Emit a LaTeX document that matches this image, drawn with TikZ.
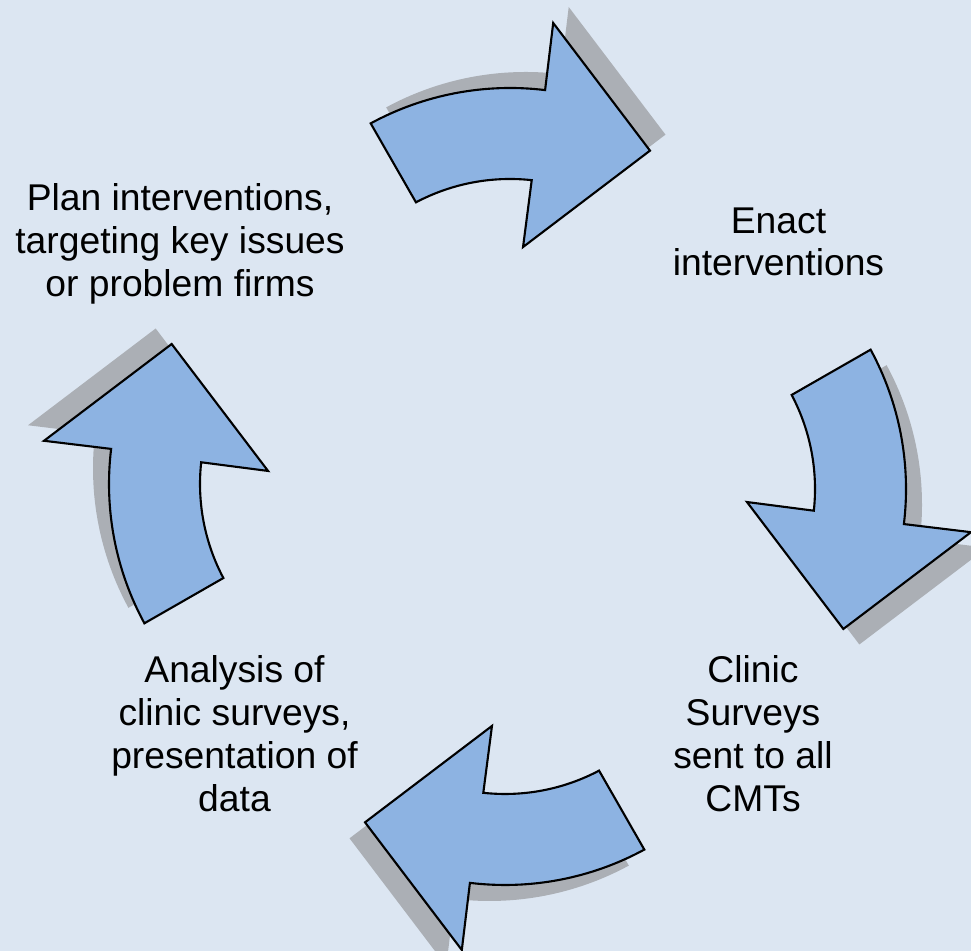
\documentclass[tikz,border=0pt]{standalone}
\usepackage{fontspec}
\setmainfont{Liberation Sans}
\definecolor{slidebg}{RGB}{220,230,242}
\definecolor{arrowfill}{RGB}{141,179,226}
\definecolor{arrowshade}{RGB}{171,175,181}
\begin{document}
\begin{tikzpicture}
\tikzstyle{every node}+=[inner sep=0pt, align=center, font=\fontsize{10.6}{12.2}\selectfont]
\tikzstyle{cyclearrow}=[draw=black, line width=0.6pt, fill=arrowfill]
\tikzstyle{arrowshadow}=[fill=arrowshade]
\useasboundingbox (0,0) rectangle (9.71,9.51);
\fill [slidebg] (0,0) rectangle (9.71,9.51);
\coordinate (hub) at (5.075,4.645);
\foreach \turn in {0,-90,-180,-270}
  \fill [arrowshadow, shift={(0.155,0.16)}, rotate around={\turn:(hub)}, shift={(5.10,5.71)}]
    (118.5:2.92) arc [start angle=118.5, end angle=83.1, radius=2.92] -- (83.1:3.596)
    -- (58.6:2.687) -- (84.4:1.336) -- (83.8:2.01) arc [start angle=83.8, end angle=117.9, radius=2.01] -- cycle;
\foreach \turn in {0,-90,-180,-270}
  \draw [cyclearrow, rotate around={\turn:(hub)}, shift={(5.10,5.71)}]
    (118.5:2.92) arc [start angle=118.5, end angle=83.1, radius=2.92] -- (83.1:3.596)
    -- (58.6:2.687) -- (84.4:1.336) -- (83.8:2.01) arc [start angle=83.8, end angle=117.9, radius=2.01] -- cycle;
\node (plan) [anchor=north] at (1.80,7.68) {Plan interventions,\\targeting key issues\\or problem firms};
\node (enact) [anchor=north] at (7.785,7.443) {Enact\\interventions};
\node (surveys) [anchor=north] at (7.53,2.96) {Clinic\\Surveys\\sent to all\\CMTs};
\node (analysis) [anchor=north] at (2.345,2.96) {Analysis of\\clinic surveys,\\presentation of\\data};
\end{tikzpicture}
\end{document}
